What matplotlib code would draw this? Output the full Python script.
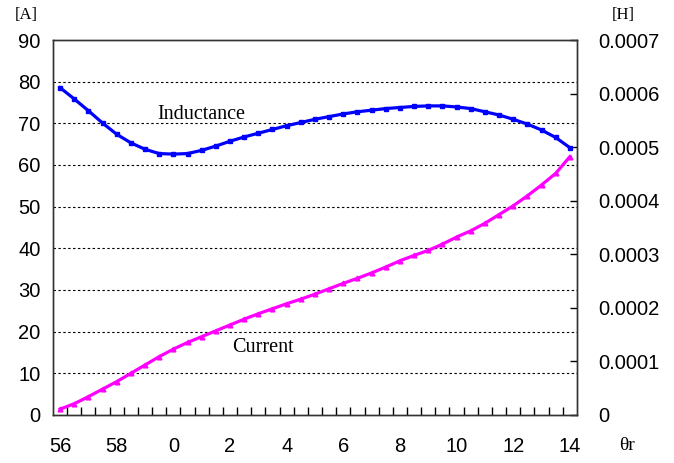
import numpy as np
import matplotlib.pyplot as plt

# rotor angle (deg) for each sample, wrapping from 59.5 back to 0
theta = [56, 56.5, 57, 57.5, 58, 58.5, 59, 59.5,
         0, 0.5, 1, 1.5, 2, 2.5, 3, 3.5, 4, 4.5, 5, 5.5, 6, 6.5,
         7, 7.5, 8, 8.5, 9, 9.5, 10, 10.5, 11, 11.5, 12, 12.5, 13, 13.5, 14]

# phase current [A]
current = [1.4, 2.7, 4.4, 6.2, 8.0, 10.0, 12.0, 14.0, 15.8, 17.4, 18.8, 20.2,
           21.6, 23.0, 24.3, 25.5, 26.7, 27.8, 29.0, 30.3, 31.6, 32.8, 34.1, 35.5,
           37.0, 38.3, 39.5, 41.0, 42.7, 44.2, 46.0, 48.1, 50.2, 52.6, 55.2, 58.0, 62.0]

# inductance [H]
inductance = [0.000611, 0.000590, 0.000568, 0.000545, 0.000524, 0.000508, 0.000496,
              0.000488, 0.000487, 0.000488, 0.000494, 0.000502, 0.000511, 0.000519,
              0.000526, 0.000533, 0.000540, 0.000546, 0.000552, 0.000557, 0.000562,
              0.000566, 0.000569, 0.000572, 0.000574, 0.000576, 0.000577, 0.000577,
              0.000575, 0.000572, 0.000566, 0.000560, 0.000552, 0.000543, 0.000532,
              0.000518, 0.000499]

tick_labels = ["56", "58", "0", "2", "4", "6", "8", "10", "12", "14"]

serif = "Liberation Serif"
sans = "Liberation Sans"

idx = np.arange(len(theta))

fig = plt.figure(figsize=(6.74, 4.63), dpi=100)
ax = fig.add_axes([0.0786, 0.1037, 0.7774, 0.8099])
ax2 = ax.twinx()

ax.plot(idx, current, color="#ff00ff", lw=2.3, marker="^", ms=3.4, zorder=3)
ax2.plot(idx, inductance, color="#0000ff", lw=2.3, marker="s", ms=3.0, zorder=3)

ax.set_xlim(-0.5, len(theta) - 0.5)
ax.set_ylim(0, 90)
ax2.set_ylim(0, 0.0007)

# dashed grid on the current axis
for v in range(10, 90, 10):
    ax.axhline(v, color="black", lw=0.8, ls=(0, (2.2, 2.2)), zorder=1)

ax.set_yticks(range(0, 91, 10))
ax.tick_params(axis="y", length=0, pad=9, labelsize=14.5)
for t in ax.get_yticklabels():
    t.set_fontfamily(sans)

ax2.set_yticks(np.arange(0, 0.00071, 0.0001))
ax2.set_yticklabels(["0", "0.0001", "0.0002", "0.0003", "0.0004",
                     "0.0005", "0.0006", "0.0007"])
ax2.tick_params(axis="y", direction="in", length=5, width=1, pad=15, labelsize=14.5)
for t in ax2.get_yticklabels():
    t.set_fontfamily(sans)

# labels every 2 degrees, small inward ticks between samples
ax.set_xticks(idx[::4])
ax.set_xticklabels(tick_labels)
ax.set_xticks(idx[:-1] + 0.5, minor=True)
ax.tick_params(axis="x", which="major", length=0, pad=16, labelsize=14.5)
ax.tick_params(axis="x", which="minor", direction="in", length=6, width=1)
for t in ax.get_xticklabels():
    t.set_fontfamily(sans)

for a in (ax, ax2):
    for s in a.spines.values():
        s.set_color("#333333")
        s.set_linewidth(1)

ax.text(10, 72, "Inductance", fontsize=14.5, family=serif, ha="center", va="center")
ax.text(14.3, 16.3, "Current", fontsize=14.5, family=serif, ha="center", va="center")

fig.text(26 / 674, 1 - 15 / 463, "[A]", fontsize=12, family=serif, ha="center", va="center")
fig.text(623 / 674, 1 - 15 / 463, "[H]", fontsize=12, family=serif, ha="center", va="center")
fig.text(627 / 674, 1 - 446 / 463, "θr", fontsize=14, family=serif, ha="center", va="center")

fig.savefig("out.png", dpi=100)
